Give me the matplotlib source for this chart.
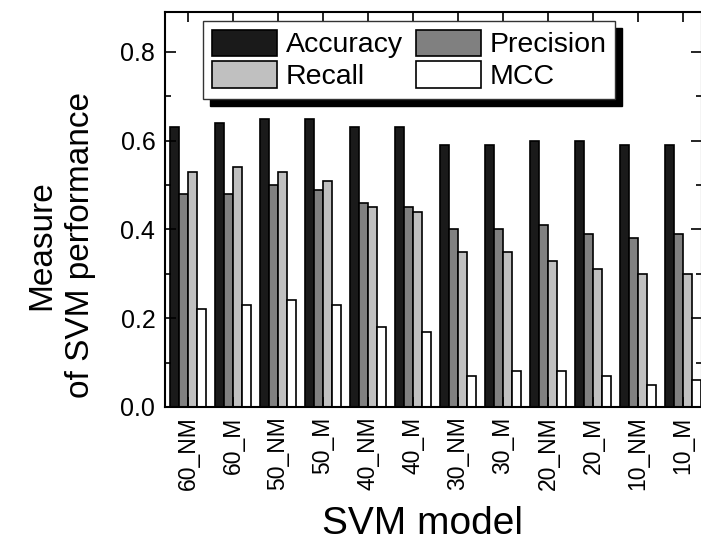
import matplotlib
matplotlib.use("Agg")
import matplotlib.pyplot as plt
import numpy as np

plt.rcParams['font.family'] = ['Liberation Sans', 'DejaVu Sans']

models = ["60_NM", "60_M", "50_NM", "50_M", "40_NM", "40_M",
          "30_NM", "30_M", "20_NM", "20_M", "10_NM", "10_M"]
accuracy = [0.63, 0.64, 0.65, 0.65, 0.63, 0.63, 0.59, 0.59, 0.60, 0.60, 0.59, 0.59]
precision = [0.48, 0.48, 0.50, 0.49, 0.46, 0.45, 0.40, 0.40, 0.41, 0.39, 0.38, 0.39]
recall = [0.53, 0.54, 0.53, 0.51, 0.45, 0.44, 0.35, 0.35, 0.33, 0.31, 0.30, 0.30]
mcc = [0.22, 0.23, 0.24, 0.23, 0.18, 0.17, 0.07, 0.08, 0.08, 0.07, 0.05, 0.06]

series = [("Accuracy", accuracy, "#1a1a1a"),
          ("Precision", precision, "#808080"),
          ("Recall", recall, "#c0c0c0"),
          ("MCC", mcc, "#ffffff")]

W, H = 701, 545
fig = plt.figure(figsize=(W / 100, H / 100), dpi=100)
ax = fig.add_axes([165 / W, (H - 407) / H, (702 - 165) / W, (407 - 12) / H])

x = np.arange(len(models))
width = 0.2
handles = {}
for i, (name, vals, col) in enumerate(series):
    b = ax.bar(x + (i - 1.5) * width, vals, width, color=col,
               edgecolor="black", linewidth=1.2, label=name)
    handles[name] = b

ax.set_xlim(-0.511, 11.42)
ax.set_ylim(0, 0.89)
ax.set_yticks([0.0, 0.2, 0.4, 0.6, 0.8])
ax.set_yticks(np.arange(0.1, 0.9, 0.2), minor=True)
ax.set_yticklabels(["0.0", "0.2", "0.4", "0.6", "0.8"])
ax.set_xticks(x)
ax.set_xticklabels(models, rotation=90)

ax.tick_params(axis="y", which="major", direction="in", length=8, width=1.2,
               left=True, right=True, labelsize=18, pad=7)
ax.tick_params(axis="y", which="minor", direction="in", length=4, width=1.2,
               left=True, right=True)
ax.tick_params(axis="x", which="major", direction="in", length=7, width=1.2,
               top=True, bottom=True, labelsize=16.5, pad=7)
for s in ax.spines.values():
    s.set_linewidth(1.5)

# two columns filled row by row: Accuracy, Precision / Recall, MCC
order = ["Accuracy", "Recall", "Precision", "MCC"]
leg = ax.legend([handles[k] for k in order], order, ncol=2, loc="upper left",
                bbox_to_anchor=(203 / W, 1 - 21 / H), bbox_transform=fig.transFigure,
                borderaxespad=0, fontsize=20.5, fancybox=False, frameon=True,
                edgecolor="#333333", framealpha=1,
                shadow={"ox": 5, "oy": -5, "color": "black", "alpha": 1},
                handlelength=2.3, handleheight=1.05, handletextpad=0.3,
                labelspacing=0.1, columnspacing=0.45, borderpad=0.3)
leg.get_frame().set_linewidth(1.0)

fig.text(422 / W, 1 - 524 / H, "SVM model", fontsize=28, ha="center", va="center")
fig.text(61 / W, 1 - 245 / H, "Measure\nof SVM performance", fontsize=24,
         ha="center", va="center", rotation=90, multialignment="center",
         linespacing=1.3)

fig.savefig("out.png", dpi=100)
